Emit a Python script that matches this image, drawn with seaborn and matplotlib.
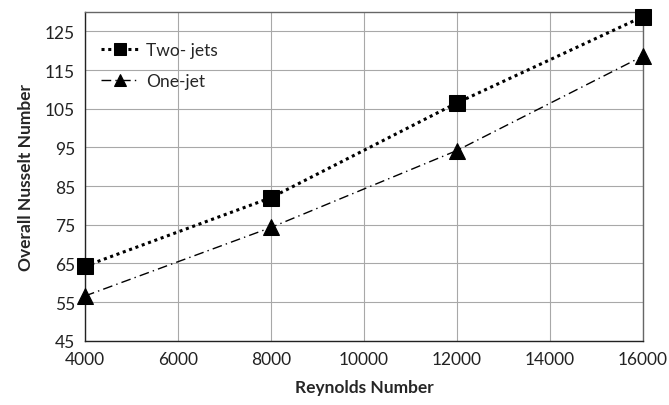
import matplotlib
matplotlib.use("Agg")
import matplotlib.pyplot as plt
import seaborn as sns
import pandas as pd

reynolds = [4000, 8000, 12000, 16000]
two_jets = [64.3, 82.0, 106.5, 128.8]
one_jet = [56.6, 74.3, 94.2, 118.6]
x_ticks = [4000, 6000, 8000, 10000, 12000, 14000, 16000]
y_ticks = [45, 55, 65, 75, 85, 95, 105, 115, 125]

sns.set_style("white")
plt.rcParams['font.family'] = ['Lato', 'DejaVu Sans']

df = pd.DataFrame({
    "Reynolds": reynolds * 2,
    "Nu": two_jets + one_jet,
    "Series": ["Two- jets"] * 4 + ["One-jet"] * 4,
})

fig = plt.figure(figsize=(6.69, 4.06), dpi=100)
ax = fig.add_axes([0.127, 0.158, 0.834, 0.810])

sns.lineplot(data=df[df.Series == "Two- jets"], x="Reynolds", y="Nu", ax=ax,
             color="black", linestyle=(0, (1, 1.2)), linewidth=2.2,
             marker="s", markersize=11, markeredgecolor="black",
             label="Two- jets", clip_on=False, zorder=5)
sns.lineplot(data=df[df.Series == "One-jet"], x="Reynolds", y="Nu", ax=ax,
             color="black", linestyle=(0, (7, 3, 1, 3)), linewidth=1.0,
             marker="^", markersize=12, markeredgecolor="black",
             label="One-jet", clip_on=False, zorder=5)

ax.set_xlim(4000, 16000)
ax.set_ylim(45, 130)
ax.set_xticks(x_ticks)
ax.set_yticks(y_ticks)
ax.grid(True, color="#a8a8a8", linewidth=0.8)
ax.tick_params(axis="both", labelsize=12.5, length=0, pad=7, colors="#222222")
ax.set_xlabel("Reynolds Number", fontsize=12.5, fontweight="bold", labelpad=9)
ax.set_ylabel("Overall Nusselt Number", fontsize=12.5, fontweight="bold", labelpad=8)

for s in ["top", "right"]:
    ax.spines[s].set_color("#666666")
    ax.spines[s].set_linewidth(1.0)
for s in ["left", "bottom"]:
    ax.spines[s].set_color("#222222")
    ax.spines[s].set_linewidth(1.0)

leg = ax.legend(loc="upper left", bbox_to_anchor=(0.0, 0.955), frameon=False,
                fontsize=12.5, handlelength=2.2, handletextpad=0.4,
                labelspacing=0.85, borderaxespad=0.5)
for h in leg.legend_handles:
    h.set_markersize(8)

fig.savefig("out.png", dpi=100)
